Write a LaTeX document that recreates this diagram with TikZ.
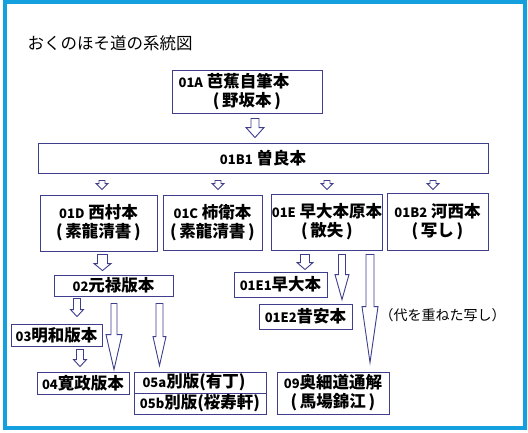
\documentclass[tikz,border=0pt]{standalone}
\usepackage{fontspec}
\setmainfont{Noto Sans CJK JP}
\usepackage{xcolor}
\usepackage{tikz}
\usetikzlibrary{
	calc
}

\definecolor{framecyan}{RGB}{20,160,222}
\definecolor{boxnavy}{RGB}{62,62,140}

% small digits in front of the names
\newcommand\id[1]{{\fontsize{13}{13}\selectfont #1}}
% hollow block arrow: top point, tip point, shaft half, head half, head length
\newcommand\hollowarrow[5]{%
	\draw[arrowline] let \p1=#1, \p2=#2 in
	({\x1-#3},\y1) -- ({\x1+#3},\y1) -- ({\x1+#3},{\y2+#5})
	-- ({\x1+#4},{\y2+#5}) -- (\x1,\y2) -- ({\x1-#4},{\y2+#5})
	-- ({\x1-#3},{\y2+#5}) -- cycle;}

\tikzset{
	box/.style={draw=boxnavy, line width=0.9pt, inner sep=0pt, align=center,
		font=\fontsize{16.5}{19}\selectfont\bfseries},
	arrowline/.style={draw=boxnavy, line width=0.9pt, fill=white}
}

\begin{document}
\begin{tikzpicture}[x=1pt, y=-1pt]
		\useasboundingbox (0,0) rectangle (528,432);
		\draw[framecyan, line width=4pt] (5,1.5) rectangle (524.5,427.5);
		\node[anchor=west, font=\fontsize{16.5}{17}\selectfont] (title) at (24,43) {おくのほそ道の系統図};
		% boxes
		\node[box, minimum width=150, minimum height=43] (jihitsu) at (247,91.5) {\id{01A} 芭蕉自筆本\hspace*{26pt}\\(\,野坂本\,)};
		\node[box, minimum width=450, minimum height=30] (sora) at (263,158) {\id{01B1} 曽良本};
		\node[box, minimum width=117, minimum height=56] (nishimura) at (98.5,223) {\id{01D} 西村本\\(\,素龍清書\,)};
		\node[box, minimum width=99, minimum height=55] (kakimori) at (212.5,222.5) {\id{01C} 柿衛本\\(\,素龍清書\,)};
		\node[box, minimum width=110, minimum height=56] (souda) at (327,222) {\id{01E} 早大本原本\\(\,散失\,)};
		\node[box, minimum width=101, minimum height=57] (kasai) at (437.5,221.5) {\id{01B2} 河西本\\(\,写し\,)};
		\node[box, minimum width=119, minimum height=21] (genroku) at (113.5,285.5) {\id{02}元禄版本};
		\node[box, minimum width=93, minimum height=25] (souda1) at (280.5,284.5) {\id{01E1}早大本};
		\node[box, minimum width=93, minimum height=25] (sekian) at (305.5,316.5) {\id{01E2}昔安本};
		\node[box, minimum width=91, minimum height=22] (meiwa) at (56.5,335) {\id{03}明和版本};
		\node[box, minimum width=92, minimum height=22] (kansei) at (83,383) {\id{04}寛政版本};
		\node[box, minimum width=132, minimum height=21] (betsua) at (200,382.5) {\id{05a}別版(有丁)\hspace*{12pt}};
		\node[box, minimum width=132, minimum height=21] (betsub) at (200,403.5) {\id{05b}別版(桜寿軒)};
		\node[box, minimum width=112, minimum height=42] (tsuukai) at (333,393) {\id{09}奥細道通解\\(\,馬場錦江\,)};
		\node[anchor=west, font=\fontsize{14}{14}\selectfont] (note) at (376,315) {（代を重ねた写し）};
		% arrows
		\hollowarrow{($(jihitsu.south)+(8,5)$)}{($(sora.north)+(0,-5)$)}{4}{9}{10}
		\hollowarrow{($(sora.south -| nishimura.north)+(3.5,7)$)}{($(nishimura.north)+(0,-5)$)}{3}{6}{6}
		\hollowarrow{($(sora.south -| kakimori.north)+(5.5,7)$)}{($(kakimori.north)+(0,-5)$)}{3}{6}{6}
		\hollowarrow{($(sora.south -| souda.north)+(0,7)$)}{($(souda.north)+(0,-4)$)}{3}{6}{6}
		\hollowarrow{($(sora.south -| kasai.north)+(-4.5,7)$)}{($(kasai.north)+(0,-3)$)}{3}{6}{6}
		\hollowarrow{($(nishimura.south)+(4,3)$)}{($(genroku.north)+(0,-4)$)}{5}{8.5}{7}
		\hollowarrow{($(souda.south)+(-22,4)$)}{($(souda1.north)+(0,-2)$)}{4.5}{8}{7}
		\hollowarrow{($(souda.south)+(15,4)$)}{($(sekian.north)+(0,-4)$)}{3.5}{7}{25}
		\hollowarrow{($(souda.south)+(43,4)$)}{($(tsuukai.north)+(0,-9)$)}{4}{8}{56}
		\hollowarrow{($(genroku.south)+(-36.5,2)$)}{($(meiwa.north)+(0,-7)$)}{3.5}{6.5}{7}
		\hollowarrow{($(genroku.south)+(0.5,7)$)}{($(kansei.north)+(0,-2)$)}{3}{8}{35}
		\hollowarrow{($(genroku.south)+(46,7)$)}{($(betsua.north)+(0,-6)$)}{3.5}{6.5}{29}
		\hollowarrow{($(meiwa.south)+(23.5,3)$)}{($(kansei.north)+(0,-5)$)}{3.5}{6.5}{7}
	\end{tikzpicture}
\end{document}
